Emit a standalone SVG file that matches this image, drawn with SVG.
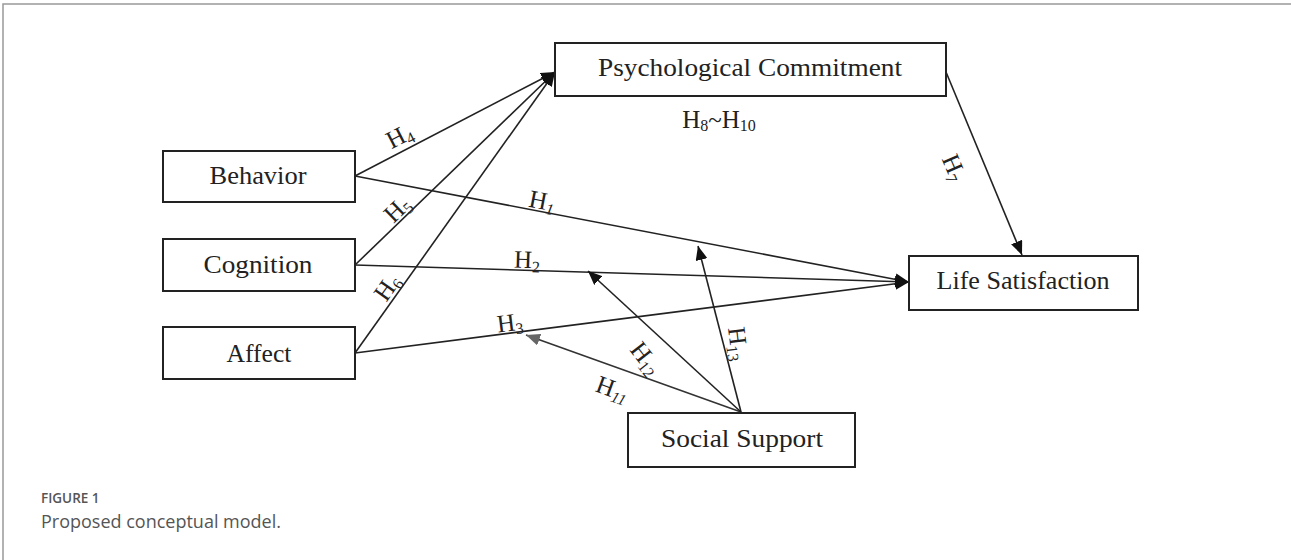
<svg xmlns="http://www.w3.org/2000/svg" width="1291" height="560" viewBox="0 0 1291 560">
<style>
.box{fill:#fff;stroke:#222;stroke-width:2}
.nt{font-family:"Liberation Serif","DejaVu Serif",serif;font-size:25px;fill:#222;text-anchor:middle}
.lb{font-family:"Liberation Serif","DejaVu Serif",serif;font-size:25px;fill:#222;text-anchor:middle}
.sub{font-size:16px}
.ln{stroke:#222;stroke-width:1.6;fill:none;marker-end:url(#ah)}
.lg{stroke:#333;stroke-width:1.6;fill:none;marker-end:url(#ag)}
</style>
<defs>
<marker id="ah" markerUnits="userSpaceOnUse" markerWidth="14" markerHeight="12" refX="14" refY="6" orient="auto"><path d="M0,0 L14,6 L0,12 z" fill="#111"/></marker>
<marker id="ag" markerUnits="userSpaceOnUse" markerWidth="14" markerHeight="12" refX="14" refY="6" orient="auto"><path d="M0,0 L14,6 L0,12 z" fill="#666"/></marker>
</defs>
<rect width="1291" height="560" fill="#fff"/>
<path d="M3,560 V4 H1291" fill="none" stroke="#999" stroke-width="1.5"/>
<g id="connectors">
<line class="ln" x1="355" y1="176" x2="555" y2="72"/>
<line class="ln" x1="355" y1="265" x2="555" y2="72"/>
<line class="ln" x1="355" y1="353" x2="555" y2="72"/>
<line class="ln" x1="355" y1="176" x2="909" y2="282"/>
<line class="ln" x1="355" y1="265" x2="909" y2="282"/>
<line class="ln" x1="355" y1="353" x2="909" y2="282"/>
<line class="ln" x1="946" y1="72" x2="1022" y2="255"/>
<line class="lg" x1="741" y1="412" x2="526" y2="335"/>
<line class="ln" x1="741" y1="412" x2="588" y2="271"/>
<line class="ln" x1="741" y1="412" x2="698" y2="246"/>
<g id="labels">
<text class="lb" transform="translate(400,137) rotate(-27)" y="7">H<tspan class="sub" dy="4">4</tspan></text>
<text class="lb" transform="translate(398,210) rotate(-44)" y="7">H<tspan class="sub" dy="4">5</tspan></text>
<text class="lb" transform="translate(388,288) rotate(-55)" y="7">H<tspan class="sub" dy="4">6</tspan></text>
<text class="lb" transform="translate(542,202) rotate(11)" y="7">H<tspan class="sub" dy="4" font-style="italic">1</tspan></text>
<text class="lb" transform="translate(527,261) rotate(2)" y="7">H<tspan class="sub" dy="4">2</tspan></text>
<text class="lb" transform="translate(510,324) rotate(-7)" y="7">H<tspan class="sub" dy="4">3</tspan></text>
<text class="lb" x="719" y="128" font-size="23">H<tspan class="sub" dy="3">8</tspan><tspan dy="-3">~H</tspan><tspan class="sub" dy="3">10</tspan></text>
<text class="lb" transform="translate(953,168) rotate(67)" y="7">H<tspan class="sub" dy="4">7</tspan></text>
<text class="lb" transform="translate(612,390) rotate(20)" y="7">H<tspan class="sub" dy="4" font-style="italic">11</tspan></text>
<text class="lb" transform="translate(645,359) rotate(52)" y="7">H<tspan class="sub" dy="4">12</tspan></text>
<text class="lb" transform="translate(737,344) rotate(83)" y="7">H<tspan class="sub" dy="4">13</tspan></text>
</g>
</g>
<g id="pc"><rect class="box" x="555" y="43" width="391" height="53"/><text class="nt" x="750" y="76" textLength="304" lengthAdjust="spacingAndGlyphs">Psychological Commitment</text></g>
<g id="behavior"><rect class="box" x="163" y="151" width="192" height="51"/><text class="nt" x="258" y="184" textLength="97" lengthAdjust="spacingAndGlyphs">Behavior</text></g>
<g id="cognition"><rect class="box" x="163" y="239" width="192" height="52"/><text class="nt" x="258" y="273" textLength="109" lengthAdjust="spacingAndGlyphs">Cognition</text></g>
<g id="affect"><rect class="box" x="163" y="327" width="192" height="52"/><text class="nt" x="259" y="362" textLength="65" lengthAdjust="spacingAndGlyphs">Affect</text></g>
<g id="ls"><rect class="box" x="909" y="256" width="229" height="54"/><text class="nt" x="1023" y="289" textLength="173" lengthAdjust="spacingAndGlyphs">Life Satisfaction</text></g>
<g id="ss"><rect class="box" x="628" y="413" width="227" height="54"/><text class="nt" x="742" y="447" textLength="162" lengthAdjust="spacingAndGlyphs">Social Support</text></g>
<g id="caption">
<text x="41" y="503" font-family="'Open Sans','Liberation Sans',sans-serif" font-size="13.5" font-weight="600" fill="#555">FIGURE 1</text>
<text x="41" y="528" font-family="'Open Sans','Liberation Sans',sans-serif" font-size="18" fill="#555" textLength="240">Proposed conceptual model.</text>
</g>
</svg>
